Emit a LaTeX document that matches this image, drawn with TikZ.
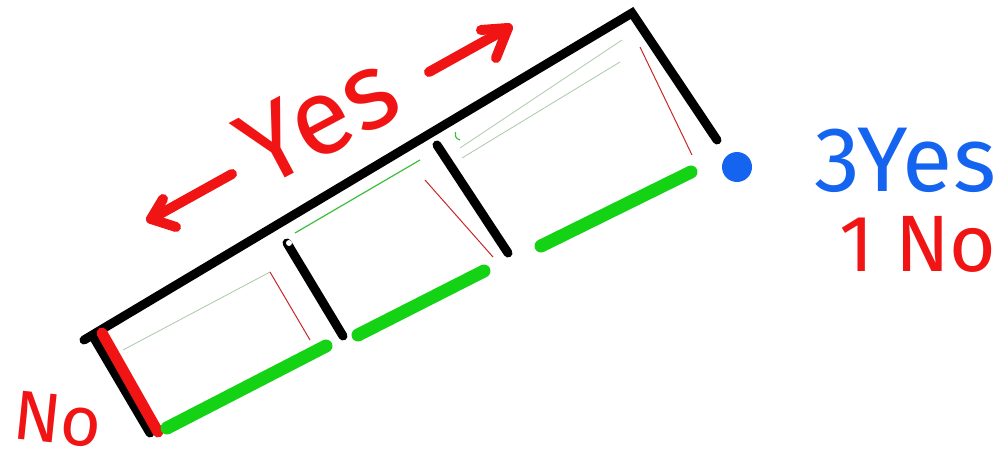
\documentclass[tikz,border=0pt]{standalone}
\usepackage{fontspec}
\setmainfont{Fira Sans}
\definecolor{hred}{RGB}{240,20,20}
\definecolor{hgreen}{RGB}{20,210,20}
\definecolor{hblue}{RGB}{20,100,240}
\definecolor{thinred}{RGB}{200,40,40}
\definecolor{thingreen}{RGB}{60,190,60}
\definecolor{faint}{RGB}{170,200,170}
\tikzset{
  wall/.style={line width=9pt, line cap=round, black},
  floorok/.style={line width=13pt, line cap=round, hgreen},
  floorno/.style={line width=11pt, line cap=round, hred},
  hint/.style={line width=1pt, thinred},
  hintg/.style={line width=1.2pt, thingreen},
  hintf/.style={line width=0.8pt, faint},
  pen/.style={line width=10pt, line cap=round, line join=round, hred},
  label/.style={inner sep=0pt, font=\fontsize{#1}{#1}\selectfont}
}
\begin{document}
\begin{tikzpicture}[x=1pt,y=-1pt]
\useasboundingbox (0,0) rectangle (1005,468);
% faint inner guide lines
\draw[hintf] (123,350) -- (270,272);
\draw[hintf] (460,148) -- (622,40);
\draw[hintf] (462,158) -- (620,62);
\draw[hintg] (295,233) -- (420,160);
\draw[hintg] (460,140) arc (100:200:6);
% thin red inner lines
\draw[hint] (270,272) -- (310,340);
\draw[hint] (425,180) -- (493,257);
\draw[hint] (640,47) -- (692,155);
% outer walls
\draw[wall] (84,340) -- (632,13) -- (717,140);
\draw[wall] (94,338) -- (150,433);
\draw[wall] (287,243) -- (343,336);
\draw[wall] (437,145) -- (508,253);
\fill[white] (289,243) circle (3);
% floors
\draw[floorno] (102,333) -- (158,432);
\draw[floorok] (167,428) -- (326,346);
\draw[floorok] (358,335) -- (484,271);
\draw[floorok] (541,246) -- (691,172);
% blue end dot
\fill[hblue] (737,167) circle (15);
% arrows
\draw[pen] (232,174) -- (151,219);
\draw[pen] (163,199) -- (151,219) -- (176,227);
\draw[pen] (429,72) -- (508,28);
\draw[pen] (481,30) -- (508,28) -- (496,58);
% labels
\node[label=108, text=hred, rotate=28] (yes) at (318,119) {Yes};
\node[label=92, text=hblue] (threeyes) at (905,160) {3Yes};
\node[label=80, text=hred] (oneno) at (918,244) {1 No};
\node[label=70, text=hred, rotate=-6] (no) at (58,420) {No};
\end{tikzpicture}
\end{document}
